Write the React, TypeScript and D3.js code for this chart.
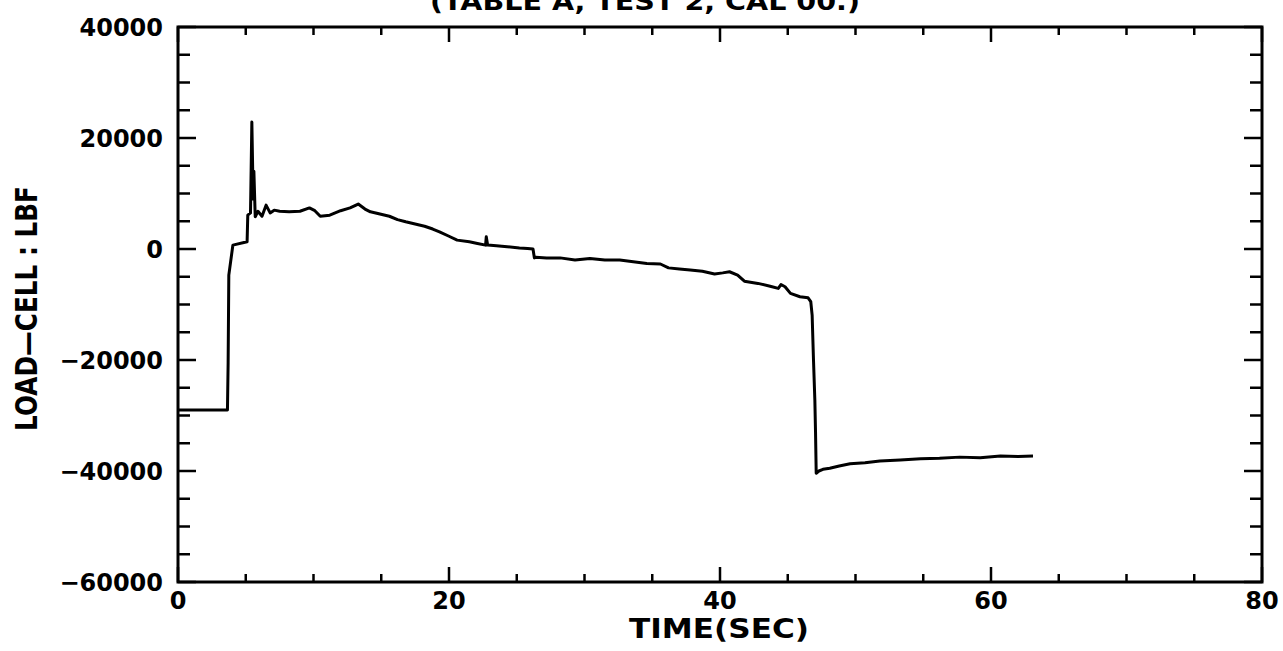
import { scaleLinear, line, range } from "d3";

const width = 1283;
const height = 651;
const margin = { top: 27, left: 178, right: 21, bottom: 69 };

const title = "(TABLE A, TEST 2, CAL 00.)";
const xLabel = "TIME(SEC)";
const yLabel = "LOAD\u2014CELL : LBF";

const xDomain = [0, 80];
const yDomain = [-60000, 40000];
const xTickLabels = [0, 20, 40, 60, 80];
const yTickLabels = [40000, 20000, 0, -20000, -40000, -60000];

// time (s) and load (lbf)
const times = [
  0, 3.65, 3.7, 3.75, 4.05, 5.1, 5.15, 5.35, 5.45, 5.55, 5.6, 5.7, 5.9, 6.2,
  6.5, 6.8, 7.1, 7.5, 8.2, 9.0, 9.7, 10.1, 10.5, 11.2, 12.0, 12.7, 13.3, 13.8,
  14.2, 14.9, 15.6, 16.2, 16.8, 17.5, 18.2, 18.8, 19.3, 20.0, 20.6, 21.5, 22.1,
  22.7, 22.75, 22.85, 23.5, 24.3, 25.2, 25.8, 26.2, 26.3, 26.4, 27.2, 28.2,
  29.3, 30.4, 31.5, 32.6, 33.6, 34.6, 35.6, 36.2, 37.0, 37.8, 38.7, 39.6, 40.2,
  40.7, 41.3, 41.8, 42.8, 43.7, 44.3, 44.5, 44.8, 45.2, 45.9, 46.5, 46.7, 46.8,
  46.9, 47.0, 47.05, 47.1, 47.3, 47.6, 48.1, 48.8, 49.6, 50.7, 51.8, 53.3, 54.8,
  56.2, 57.7, 59.2, 60.7, 62.0, 63.1,
];
const loads = [
  -29000, -29000, -20500, -4700, 700, 1300, 6100, 6500, 22900, 9000, 14000,
  5800, 6800, 5900, 7900, 6500, 7000, 6800, 6700, 6800, 7400, 6900, 5900, 6100,
  6900, 7400, 8100, 7200, 6700, 6300, 5900, 5300, 4900, 4500, 4100, 3600, 3100,
  2300, 1600, 1300, 1000, 700, 2200, 700, 600, 400, 200, 100, 0, -1600, -1500,
  -1600, -1600, -2000, -1700, -2000, -2000, -2300, -2600, -2700, -3400, -3600,
  -3800, -4000, -4500, -4300, -4100, -4700, -5800, -6200, -6700, -7100, -6400,
  -6800, -8000, -8600, -8800, -9500, -11900, -20000, -27200, -33000, -40400,
  -40000, -39700, -39500, -39100, -38700, -38500, -38200, -38000, -37800,
  -37700, -37500, -37600, -37300, -37400, -37300,
];

const font = "'DejaVu Sans', sans-serif";

const App = () => {
  const x0 = margin.left;
  const x1 = width - margin.right;
  const y0 = margin.top;
  const y1 = height - margin.bottom;

  const xScale = scaleLinear().domain(xDomain).range([x0, x1]);
  const yScale = scaleLinear().domain(yDomain).range([y1, y0]);

  const pts: [number, number][] = times.map((t, i) => [t, loads[i]]);
  const path = line<[number, number]>()
    .x((d) => xScale(d[0]))
    .y((d) => yScale(d[1]))(pts);

  const xTicks = range(0, 81, 5);
  const yTicks = range(-60000, 40001, 5000);

  return (
    <svg
      width={width}
      height={height}
      style={{ position: "absolute", left: 0, top: 0, background: "#fff" }}
    >
      <text
        x={645}
        y={10}
        textAnchor="middle"
        fontFamily={font}
        fontWeight="bold"
        fontSize={24}
        textLength={430}
        lengthAdjust="spacingAndGlyphs"
      >
        {title}
      </text>

      {/* ticks */}
      {xTicks.map((t) => {
        const len = t % 20 === 0 ? 15 : 8;
        return (
          <g key={"x" + t} stroke="#000" strokeWidth={2.5}>
            <line x1={xScale(t)} x2={xScale(t)} y1={y1} y2={y1 - len} />
            <line x1={xScale(t)} x2={xScale(t)} y1={y0} y2={y0 + len} />
          </g>
        );
      })}
      {yTicks.map((v) => {
        const len = v % 20000 === 0 ? 18 : 12;
        return (
          <g key={"y" + v} stroke="#000" strokeWidth={2.5}>
            <line x1={x0} x2={x0 + len} y1={yScale(v)} y2={yScale(v)} />
            <line x1={x1} x2={x1 - len} y1={yScale(v)} y2={yScale(v)} />
          </g>
        );
      })}

      <rect
        x={x0}
        y={y0}
        width={x1 - x0}
        height={y1 - y0}
        fill="none"
        stroke="#000"
        strokeWidth={3}
      />

      {xTickLabels.map((t) => (
        <text
          key={"xl" + t}
          x={xScale(t)}
          y={y1 + 27}
          textAnchor="middle"
          fontFamily={font}
          fontWeight="bold"
          fontSize={24}
        >
          {t}
        </text>
      ))}
      {yTickLabels.map((v) => (
        <text
          key={"yl" + v}
          x={x0 - 15}
          y={yScale(v) + 9}
          textAnchor="end"
          fontFamily={font}
          fontWeight="bold"
          fontSize={24}
        >
          {v < 0 ? "\u2212" + Math.abs(v) : v}
        </text>
      ))}

      <text
        x={xScale(40) - 1}
        y={y1 + 56}
        textAnchor="middle"
        fontFamily={font}
        fontWeight="bold"
        fontSize={27}
        textLength={180}
        lengthAdjust="spacingAndGlyphs"
      >
        {xLabel}
      </text>
      <text
        transform={`translate(37, ${(y0 + y1) / 2 + 4}) rotate(-90)`}
        textAnchor="middle"
        fontFamily={font}
        fontWeight="bold"
        fontSize={30}
        textLength={245}
        lengthAdjust="spacingAndGlyphs"
      >
        {yLabel}
      </text>

      <path
        d={path ?? ""}
        fill="none"
        stroke="#000"
        strokeWidth={3}
        strokeLinejoin="round"
      />
    </svg>
  );
};

export default App;
